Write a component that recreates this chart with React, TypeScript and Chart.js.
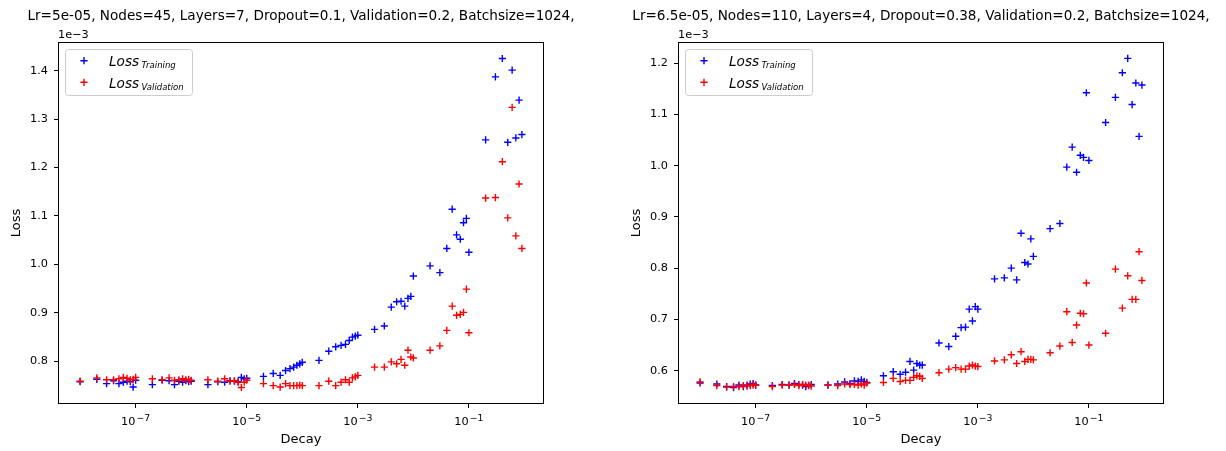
import React, { useEffect, useRef } from 'react';
import { Chart, registerables } from 'chart.js';

Chart.register(...registerables);

// Weight-decay values shared by every run (x axis, log scale)
const decays = [
  1e-8, 2e-8, 3e-8, 4e-8, 5e-8, 6e-8, 7e-8, 8e-8, 9e-8,
  1e-7, 2e-7, 3e-7, 4e-7, 5e-7, 6e-7, 7e-7, 8e-7, 9e-7,
  1e-6, 2e-6, 3e-6, 4e-6, 5e-6, 6e-6, 7e-6, 8e-6, 9e-6,
  1e-5, 2e-5, 3e-5, 4e-5, 5e-5, 6e-5, 7e-5, 8e-5, 9e-5,
  1e-4, 2e-4, 3e-4, 4e-4, 5e-4, 6e-4, 7e-4, 8e-4, 9e-4,
  1e-3, 2e-3, 3e-3, 4e-3, 5e-3, 6e-3, 7e-3, 8e-3, 9e-3,
  1e-2, 2e-2, 3e-2, 4e-2, 5e-2, 6e-2, 7e-2, 8e-2, 9e-2,
  1e-1, 2e-1, 3e-1, 4e-1, 5e-1, 6e-1, 7e-1, 8e-1, 9e-1,
];

// Losses in units of 1e-3
const lossTrainingA = [
  0.758, 0.763, 0.754, 0.760, 0.754, 0.757, 0.759, 0.758, 0.747,
  0.761, 0.752, 0.761, 0.760, 0.752, 0.759, 0.757, 0.760, 0.758,
  0.759, 0.752, 0.758, 0.757, 0.760, 0.759, 0.758, 0.767, 0.764,
  0.765, 0.769, 0.775, 0.771, 0.781, 0.785, 0.788, 0.792, 0.795,
  0.798, 0.802, 0.821, 0.830, 0.833, 0.835, 0.843, 0.850, 0.852,
  0.854, 0.866, 0.873, 0.912, 0.923, 0.924, 0.914, 0.930, 0.934,
  0.976, 0.997, 0.983, 1.033, 1.114, 1.061, 1.052, 1.086, 1.095,
  1.025, 1.257, 1.387, 1.425, 1.252, 1.401, 1.261, 1.339, 1.268,
];
const lossValidationA = [
  0.759, 0.766, 0.762, 0.762, 0.764, 0.767, 0.765, 0.762, 0.763,
  0.767, 0.764, 0.762, 0.766, 0.761, 0.762, 0.764, 0.762, 0.763,
  0.761, 0.762, 0.759, 0.764, 0.759, 0.760, 0.757, 0.746, 0.757,
  0.761, 0.754, 0.750, 0.747, 0.754, 0.750, 0.750, 0.750, 0.751,
  0.750, 0.750, 0.759, 0.750, 0.757, 0.762, 0.757, 0.766, 0.768,
  0.771, 0.788, 0.788, 0.799, 0.795, 0.804, 0.792, 0.823, 0.809,
  0.807, 0.823, 0.832, 0.864, 0.914, 0.895, 0.897, 0.901, 0.949,
  0.859, 1.137, 1.138, 1.212, 1.096, 1.324, 1.059, 1.166, 1.033,
];
const lossTrainingB = [
  0.576, 0.574, 0.569, 0.567, 0.572, 0.569, 0.572, 0.574, 0.575,
  0.572, 0.571, 0.573, 0.572, 0.575, 0.573, 0.572, 0.569, 0.571,
  0.573, 0.572, 0.574, 0.578, 0.575, 0.580, 0.579, 0.582, 0.579,
  0.577, 0.590, 0.598, 0.593, 0.597, 0.618, 0.601, 0.614, 0.611,
  0.611, 0.654, 0.647, 0.667, 0.684, 0.685, 0.720, 0.697, 0.725,
  0.720, 0.779, 0.781, 0.800, 0.777, 0.868, 0.811, 0.808, 0.857,
  0.823, 0.877, 0.887, 0.997, 1.036, 0.987, 1.020, 1.016, 1.142,
  1.010, 1.084, 1.133, 1.181, 1.209, 1.119, 1.161, 1.057, 1.157,
];
const lossValidationB = [
  0.578, 0.571, 0.568, 0.569, 0.569, 0.571, 0.570, 0.571, 0.572,
  0.572, 0.569, 0.572, 0.572, 0.573, 0.571, 0.573, 0.572, 0.572,
  0.570, 0.572, 0.571, 0.574, 0.573, 0.573, 0.572, 0.574, 0.572,
  0.576, 0.577, 0.585, 0.579, 0.581, 0.581, 0.587, 0.590, 0.589,
  0.585, 0.596, 0.603, 0.606, 0.603, 0.603, 0.609, 0.611, 0.609,
  0.608, 0.619, 0.621, 0.631, 0.614, 0.637, 0.618, 0.622, 0.622,
  0.621, 0.635, 0.648, 0.715, 0.655, 0.689, 0.712, 0.711, 0.771,
  0.650, 0.673, 0.798, 0.722, 0.785, 0.739, 0.739, 0.832, 0.776,
];

const decayTicks = [1e-7, 1e-5, 1e-3, 1e-1];
const decayTickBase = '10';
const decayTickExponents = ['−7', '−5', '−3', '−1'];
const lossTicksA = [0.8, 0.9, 1.0, 1.1, 1.2, 1.3, 1.4];
const lossTicksB = [0.6, 0.7, 0.8, 0.9, 1.0, 1.1, 1.2];

const titleA = 'Lr=5e-05, Nodes=45, Layers=7, Dropout=0.1, Validation=0.2, Batchsize=1024,';
const titleB = 'Lr=6.5e-05, Nodes=110, Layers=4, Dropout=0.38, Validation=0.2, Batchsize=1024,';
const offsetLabel = '1e−3';
const seriesNames = ['Training', 'Validation'];

const decayMin = Math.pow(10, -8.398);
const decayMax = Math.pow(10, 0.352);

const FONT = '"DejaVu Sans", sans-serif';
const TICK_PX = 11.3;
const LABEL_PX = 13;
const H = 451;
const AREA = { left: 58, top: 42, right: 544, bottom: 404 };
const BLUE = '#0000ff';
const RED = '#ff0000';
const MARK_R = 3.6;
const MARK_W = 1.4;

type Panel = {
  title: string;
  training: number[];
  validation: number[];
  lossTicks: number[];
  lossMin: number;
  lossMax: number;
  width: number;
};

function drawCross(ctx: CanvasRenderingContext2D, x: number, y: number, r: number, color: string) {
  ctx.beginPath();
  ctx.moveTo(x - r, y);
  ctx.lineTo(x + r, y);
  ctx.moveTo(x, y - r);
  ctx.lineTo(x, y + r);
  ctx.strokeStyle = color;
  ctx.lineWidth = MARK_W;
  ctx.stroke();
}

function decorations(title: string) {
  return {
    id: 'panelDecorations',
    afterDraw(chart: Chart) {
      const { ctx, chartArea: a } = chart;
      ctx.save();

      // axes frame
      ctx.strokeStyle = '#000';
      ctx.lineWidth = 1;
      ctx.strokeRect(a.left + 0.5, a.top + 0.5, a.right - a.left - 1, a.bottom - a.top - 1);

      // decay tick labels as 10 with a raised exponent
      const xs: any = chart.scales.x;
      ctx.fillStyle = '#000';
      ctx.textBaseline = 'alphabetic';
      ctx.textAlign = 'left';
      xs.ticks.forEach((t: any, i: number) => {
        const px = xs.getPixelForValue(t.value);
        ctx.font = `${TICK_PX}px ${FONT}`;
        const wb = ctx.measureText(decayTickBase).width;
        ctx.font = `9.3px ${FONT}`;
        const we = ctx.measureText(decayTickExponents[i]).width;
        const x0 = px - (wb + 1 + we) / 2;
        ctx.font = `${TICK_PX}px ${FONT}`;
        ctx.fillText(decayTickBase, x0, a.bottom + 21);
        ctx.font = `9.3px ${FONT}`;
        ctx.fillText(decayTickExponents[i], x0 + wb + 1, a.bottom + 16.6);
      });

      // title and exponent label
      ctx.font = `13.6px ${FONT}`;
      ctx.textAlign = 'center';
      ctx.fillText(title, (a.left + a.right) / 2, 19.5);
      ctx.font = `${TICK_PX}px ${FONT}`;
      ctx.textAlign = 'left';
      ctx.fillText(offsetLabel, a.left, 38.3);

      // legend
      const bx = a.left + 7;
      const by = a.top + 7;
      ctx.beginPath();
      ctx.roundRect(bx + 0.5, by + 0.5, 127, 46, 3);
      ctx.fillStyle = 'rgba(255,255,255,0.8)';
      ctx.fill();
      ctx.strokeStyle = '#cccccc';
      ctx.lineWidth = 1;
      ctx.stroke();

      const colors = [BLUE, RED];
      seriesNames.forEach((name, i) => {
        const y = a.top + 18.7 + i * 21.6;
        drawCross(ctx, a.left + 26, y, MARK_R, colors[i]);
        ctx.fillStyle = '#000';
        ctx.textAlign = 'left';
        ctx.font = `italic 13.6px ${FONT}`;
        const tx = a.left + 51;
        ctx.fillText('Loss', tx, y + 5.3);
        const w = ctx.measureText('Loss').width;
        ctx.font = `italic 8.5px ${FONT}`;
        ctx.fillText(name, tx + w + 2.5, y + 7.3);
      });

      ctx.restore();
    },
  };
}

function buildChart(canvas: HTMLCanvasElement, p: Panel) {
  const font = { family: FONT, size: TICK_PX };
  const labelFont = { family: FONT, size: LABEL_PX };
  const points = (vals: number[]) => decays.map((d, i) => ({ x: d, y: vals[i] }));
  const marker = (color: string) => ({
    pointStyle: 'cross' as const,
    pointRadius: MARK_R,
    pointHoverRadius: MARK_R,
    pointBorderWidth: MARK_W,
    borderColor: color,
    backgroundColor: color,
    showLine: false,
  });

  return new Chart(canvas, {
    type: 'scatter',
    data: {
      datasets: [
        { label: 'Loss Training', data: points(p.training), order: 1, ...marker(BLUE) },
        { label: 'Loss Validation', data: points(p.validation), order: 0, ...marker(RED) },
      ],
    },
    options: {
      responsive: false,
      animation: false,
      devicePixelRatio: 1,
      events: [],
      layout: { padding: { left: 0, top: AREA.top, right: p.width - AREA.right, bottom: 0 } },
      plugins: {
        legend: { display: false },
        title: { display: false },
        tooltip: { enabled: false },
      },
      scales: {
        x: {
          type: 'logarithmic',
          position: 'bottom',
          min: decayMin,
          max: decayMax,
          afterBuildTicks: (s: any) => {
            s.ticks = decayTicks.map((v) => ({ value: v }));
          },
          afterFit: (s: any) => {
            s.height = H - AREA.bottom;
          },
          ticks: { display: false, autoSkip: false, maxRotation: 0 },
          grid: { display: true, drawOnChartArea: false, drawTicks: true, tickLength: 4, tickColor: '#000', tickWidth: 1 },
          border: { display: false },
          title: { display: true, text: 'Decay', color: '#000', font: labelFont, padding: { top: 0, bottom: 3.6 } },
        },
        y: {
          type: 'linear',
          position: 'left',
          min: p.lossMin,
          max: p.lossMax,
          afterBuildTicks: (s: any) => {
            s.ticks = p.lossTicks.map((v) => ({ value: v }));
          },
          afterFit: (s: any) => {
            s.width = AREA.left;
          },
          ticks: {
            padding: 6,
            color: '#000',
            font,
            callback: (v: any) => Number(v).toFixed(1),
          },
          grid: { display: true, drawOnChartArea: false, drawTicks: true, tickLength: 4, tickColor: '#000', tickWidth: 1 },
          border: { display: false },
          title: { display: true, text: 'Loss', color: '#000', font: labelFont, padding: { top: 8.7, bottom: 0 } },
        },
      },
    },
    plugins: [decorations(p.title)],
  });
}

const LEFT_W = 620;
const RIGHT_W = 606;

const panelA: Panel = {
  title: titleA,
  training: lossTrainingA,
  validation: lossValidationA,
  lossTicks: lossTicksA,
  lossMin: 0.712,
  lossMax: 1.459,
  width: LEFT_W,
};
const panelB: Panel = {
  title: titleB,
  training: lossTrainingB,
  validation: lossValidationB,
  lossTicks: lossTicksB,
  lossMin: 0.535,
  lossMax: 1.241,
  width: RIGHT_W,
};

export default function App() {
  const leftRef = useRef<HTMLCanvasElement>(null);
  const rightRef = useRef<HTMLCanvasElement>(null);

  useEffect(() => {
    const charts: Chart[] = [];
    if (leftRef.current) charts.push(buildChart(leftRef.current, panelA));
    if (rightRef.current) charts.push(buildChart(rightRef.current, panelB));
    return () => charts.forEach((c) => c.destroy());
  }, []);

  return (
    <div style={{ position: 'absolute', left: 0, top: 0, width: 1226, height: H, background: '#fff' }}>
      <canvas ref={leftRef} width={LEFT_W} height={H} style={{ position: 'absolute', left: 0, top: 0 }} />
      <canvas ref={rightRef} width={RIGHT_W} height={H} style={{ position: 'absolute', left: LEFT_W, top: 0 }} />
    </div>
  );
}
